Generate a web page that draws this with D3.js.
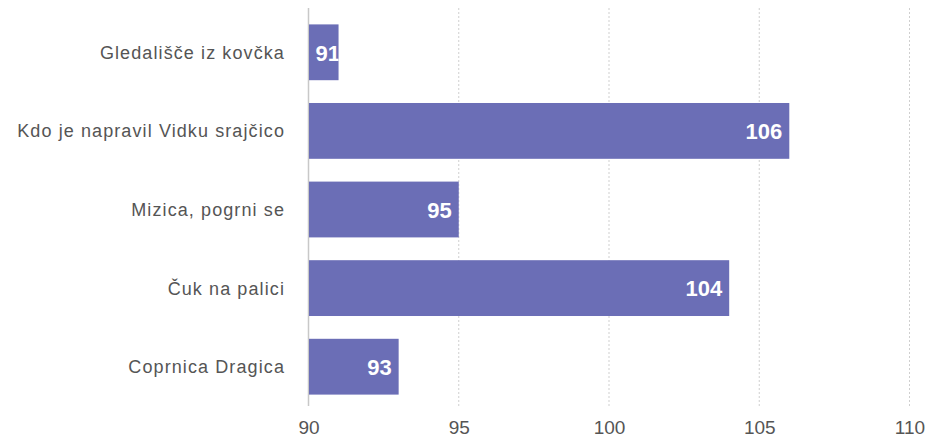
<!DOCTYPE html>
<html><head><meta charset="utf-8">
<script src="https://cdn.jsdelivr.net/npm/d3@7"></script>
<style>body{margin:0;background:#fff;}svg{display:block;font-family:"Liberation Sans",Arial,Helvetica,sans-serif;}</style>
</head><body><svg id="c" width="934" height="437"></svg>
<script>
const categories = ["Gledališče iz kovčka","Kdo je napravil Vidku srajčico","Mizica, pogrni se","Čuk na palici","Coprnica Dragica"];
const values = [91,106,95,104,93];
const ticks = [90,95,100,105,110];

const svg = d3.select("#c");
const x = d3.scaleLinear().domain([90,110]).range([308.5,909.5]);
const y = d3.scaleBand().domain(categories).range([13,406]).paddingInner(0.29).paddingOuter(0.145);

// gridlines
svg.append("g").selectAll("line").data(ticks.slice(1)).join("line")
  .attr("x1",d=>x(d)).attr("x2",d=>x(d)).attr("y1",8).attr("y2",406)
  .attr("stroke","#cfcfcf").attr("stroke-width",1).attr("stroke-dasharray","2,2");
svg.append("line").attr("x1",x(90)).attr("x2",x(90)).attr("y1",8).attr("y2",406)
  .attr("stroke","#c8c8c8").attr("stroke-width",1.5);

// bars
svg.append("g").selectAll("rect").data(values).join("rect")
  .attr("x",x(90)+0.5).attr("y",(d,i)=>y(categories[i]))
  .attr("width",d=>x(d)-x(90)-0.5).attr("height",y.bandwidth())
  .attr("fill","#6b6eb6");

// value labels (clipped to bars)
const defs = svg.append("defs");
values.forEach((d,i)=>{
  defs.append("clipPath").attr("id","cp"+i).append("rect")
    .attr("x",x(90)).attr("y",y(categories[i])).attr("width",x(d)-x(90)).attr("height",y.bandwidth());
});
svg.append("g").selectAll("text").data(values).join("text")
  .attr("clip-path",(d,i)=>"url(#cp"+i+")")
  .attr("x",d=>{const w=x(d)-x(90); return w<55 ? x(90)+7 : x(d)-7;})
  .attr("text-anchor",d=>(x(d)-x(90))<55?"start":"end")
  .attr("y",(d,i)=>y(categories[i])+y.bandwidth()/2)
  .attr("dy","0.38em")
  .attr("fill","#fff").attr("font-size",22).attr("font-weight","bold")
  .text(d=>d);

// category labels
svg.append("g").selectAll("text").data(categories).join("text")
  .attr("x",285).attr("y",d=>y(d)+y.bandwidth()/2).attr("dy","0.36em")
  .attr("text-anchor","end").attr("fill","#555").attr("font-size",18)
  .attr("letter-spacing","1.1px")
  .text(d=>d);

// x tick labels
const xAxis = d3.axisBottom(x).tickValues(ticks).tickSize(0).tickPadding(0);
const ax = svg.append("g").attr("transform","translate(0,420)").call(xAxis);
ax.select(".domain").remove();
ax.selectAll("text").attr("font-size",19).attr("fill","#555").attr("font-family","'Liberation Sans',Arial,sans-serif");
</script></body></html>
